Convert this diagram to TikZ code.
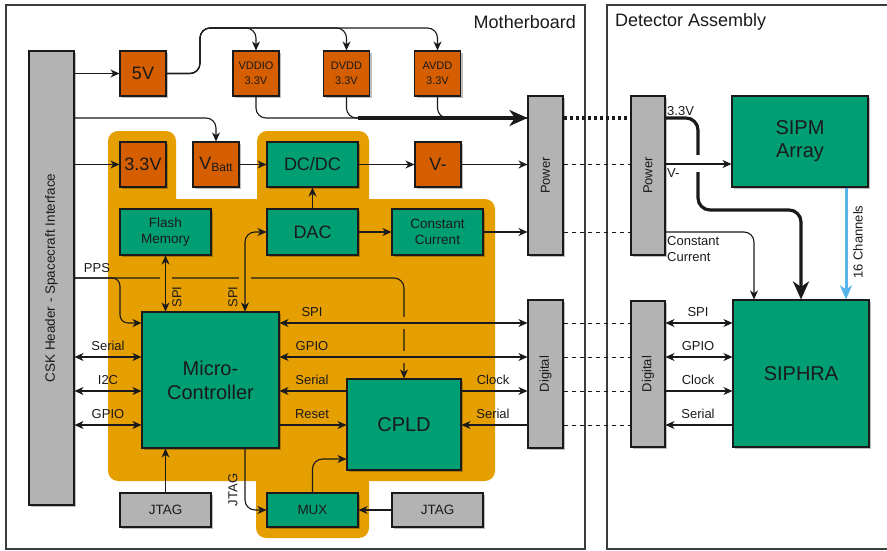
\documentclass[tikz,border=0pt]{standalone}
\usepackage{fontspec}
\setmainfont{Liberation Sans}
\usetikzlibrary{arrows.meta,shadows}
\definecolor{vorange}{HTML}{D55E00}
\definecolor{vgreen}{HTML}{009E73}
\definecolor{bgorange}{HTML}{E69F00}
\definecolor{vgray}{HTML}{B3B3B3}
\definecolor{vblue}{HTML}{56B4E9}
\definecolor{ink}{HTML}{1A1A1A}
\newcommand{\fsz}[1]{\fontsize{#1}{#1}\selectfont}
\begin{document}
\begin{tikzpicture}[x=1pt,y=-1pt,
  >={Stealth[length=9pt,width=8pt,inset=2.8pt]},
  box/.style={draw=ink,line width=1.1pt,inner sep=0pt,align=center,text=ink,
    drop shadow={shadow xshift=2pt,shadow yshift=-2pt,opacity=0.25,fill=black}},
  obox/.style={box,fill=vorange},
  gbox/.style={box,fill=vgreen},
  ybox/.style={box,fill=vgray},
  sq/.style={minimum width=46pt,minimum height=45pt},
  wide/.style={minimum width=91pt,minimum height=46pt},
  ln/.style={draw=ink,line width=1.1pt},
  thickln/.style={draw=ink,line width=3.2pt},
  bigtip/.style={-{Stealth[length=18pt,width=16pt,inset=5.5pt]}},
  dashln/.style={draw=ink,line width=0.9pt,dash pattern=on 4pt off 4pt},
  lbl/.style={inner sep=0pt,text=ink,font=\fsz{13}},
  frame/.style={draw=ink!85,line width=1.3pt,inner sep=0pt},
]
\useasboundingbox (0,0) rectangle (887,551);

% frames
\node[frame,minimum width=579pt,minimum height=544pt] (mb) at (295.5,277) {};
\node[frame,minimum width=282pt,minimum height=544pt] (da) at (748,277) {};
\node[anchor=east,inner sep=0pt,text=ink,font=\fsz{18}] (mbt) at (576,22) {Motherboard};
\node[anchor=west,inner sep=0pt,text=ink,font=\fsz{18}] (dat) at (615,22) {Detector Assembly};

% orange background region
\fill[bgorange,rounded corners=10pt] (108,131) rectangle (176,215);
\fill[bgorange,rounded corners=10pt] (257,131) rectangle (369,215);
\fill[bgorange,rounded corners=10pt] (108,199) rectangle (495,481);
\fill[bgorange,rounded corners=10pt] (256,465) rectangle (369,538);

% nodes
\node[ybox,minimum width=45pt,minimum height=454pt] (csk) at (51.5,278) {\rotatebox{90}{\fsz{13.5}CSK Header - Spacecraft Interface}};
\node[obox,sq] (v5) at (143,73.5) {\fsz{18}5V};
\node[obox,sq,font=\fontsize{11}{15}\selectfont] (vddio) at (256,73.5) {VDDIO\\3.3V};
\node[obox,sq,font=\fontsize{11}{15}\selectfont] (dvdd) at (346.5,73.5) {DVDD\\3.3V};
\node[obox,sq,font=\fontsize{11}{15}\selectfont] (avdd) at (437.5,73.5) {AVDD\\3.3V};
\node[ybox,minimum width=35pt,minimum height=159pt] (mbpower) at (545.5,175.5) {\rotatebox{90}{\fsz{13}Power}};
\node[ybox,minimum width=35pt,minimum height=148pt] (mbdigital) at (545.5,374) {\rotatebox{90}{\fsz{13}Digital}};
\node[ybox,minimum width=34pt,minimum height=159pt] (detpower) at (648,175.5) {\rotatebox{90}{\fsz{13}Power}};
\node[ybox,minimum width=34pt,minimum height=146pt] (detdigital) at (648,374) {\rotatebox{90}{\fsz{13}Digital}};
\node[gbox,minimum width=136pt,minimum height=91pt,font=\fontsize{20}{23}\selectfont] (sipm) at (800,141.5) {SIPM\\Array};
\node[gbox,minimum width=136pt,minimum height=147pt,font=\fsz{20}] (siphra) at (801,373.5) {SIPHRA};
\node[obox,sq] (v33) at (143,164.5) {\fsz{18}3.3V};
\node[obox,sq] (vbatt) at (216,164.5) {\fsz{18}V\raisebox{-2.5pt}{\fsz{12}Batt}};
\node[gbox,minimum width=91pt,minimum height=45pt] (dcdc) at (312.5,164.5) {\fsz{18}DC/DC};
\node[obox,sq] (vminus) at (438,164.5) {\fsz{18}V-};
\node[gbox,wide,font=\fontsize{13.5}{16}\selectfont] (flash) at (165.5,232) {Flash\\Memory};
\node[gbox,wide] (dac) at (312.5,232) {\fsz{18}DAC};
\node[gbox,wide,font=\fontsize{13.5}{16}\selectfont] (cc) at (437.5,232) {Constant\\Current};
\node[gbox,minimum width=137pt,minimum height=136pt,font=\fontsize{20}{24}\selectfont] (mcu) at (210.5,380) {Micro-\\Controller};
\node[gbox,minimum width=114pt,minimum height=91pt,font=\fsz{20}] (cpld) at (404,424.5) {CPLD};
\node[gbox,minimum width=91pt,minimum height=34pt,font=\fsz{13.5}] (mux) at (312.5,510) {MUX};
\node[ybox,minimum width=91pt,minimum height=34pt,font=\fsz{13.5}] (jtagl) at (165.5,510) {JTAG};
\node[ybox,minimum width=91pt,minimum height=34pt,font=\fsz{13.5}] (jtagr) at (437.5,510) {JTAG};
\coordinate (join) at (358,118);

% supply rails
\draw[ln,->] (csk.east |- v5.west) -- (v5.west);
\draw[ln,->,rounded corners=10pt] (v5.east) -- (200,73.5) -- (200,28) -- (vddio.north |- 0,28) -- (vddio.north);
\draw[ln,->,rounded corners=10pt] (v5.east) -- (200,73.5) -- (200,28) -- (dvdd.north |- 0,28) -- (dvdd.north);
\draw[ln,->,rounded corners=10pt] (v5.east) -- (200,73.5) -- (200,28) -- (avdd.north |- 0,28) -- (avdd.north);
\draw[ln,rounded corners=10pt] (vddio.south) -- (vddio.south |- 0,118) -- (mbpower.west |- 0,118);
\draw[ln,rounded corners=10pt] (dvdd.south) -- (dvdd.south |- 0,118) -- (join);
\draw[ln,rounded corners=10pt] (avdd.south) -- (avdd.south |- 0,118) -- (mbpower.west |- 0,118);
\draw[thickln,bigtip] (join) -- (mbpower.west |- 0,118);
\draw[ln,->] (csk.east |- v33.west) -- (v33.west);
\draw[ln,->,rounded corners=10pt] (csk.east |- 0,118) -- (vbatt.north |- 0,118) -- (vbatt.north);
\draw[ln,->] (vbatt) -- (dcdc);
\draw[ln,->] (dcdc) -- (vminus);
\draw[ln,->] (vminus.east) -- (mbpower.west |- vminus.east);
\draw[ln,->] (dac) -- (dcdc);
\draw[ln,->] (dac) -- (cc);
\draw[ln,->] (cc.east) -- (mbpower.west |- cc.east);

% PPS
\draw[ln,->,rounded corners=8pt] (csk.east |- 0,278) -- (120,278) -- (120,323) -- (mcu.west |- 0,323);
\draw[ln,->,rounded corners=10pt] (csk.east |- 0,278) -- (cpld.north |- 0,278) -- (cpld.north);
\fill[bgorange] (160,275) rectangle (172,281);
\fill[bgorange] (239,275) rectangle (251,281);
\fill[bgorange] (400,317) rectangle (408,329);
\fill[bgorange] (400,351) rectangle (408,363);

% SPI to flash and DAC
\draw[ln,<->] (flash.south) -- (flash.south |- mcu.north);
\draw[ln,<->,rounded corners=10pt] (dac.west) -- (dac.west -| 245,0) -- (mcu.north -| 245,0);

% MCU / CPLD / digital
\draw[ln,<->] (mcu.east |- 0,323) -- (mbdigital.west |- 0,323);
\draw[ln,<->] (mcu.east |- 0,357) -- (mbdigital.west |- 0,357);
\draw[ln,->] (cpld.west |- 0,391) -- (mcu.east |- 0,391);
\draw[ln,->] (mcu.east |- 0,425) -- (cpld.west |- 0,425);
\draw[ln,->] (cpld.east |- 0,391) -- (mbdigital.west |- 0,391);
\draw[ln,->] (mbdigital.west |- 0,425) -- (cpld.east |- 0,425);
\draw[ln,<->] (csk.east |- 0,357) -- (mcu.west |- 0,357);
\draw[ln,<->] (csk.east |- 0,391) -- (mcu.west |- 0,391);
\draw[ln,<->] (csk.east |- 0,425) -- (mcu.west |- 0,425);

% JTAG
\draw[ln,->] (jtagl.north) -- (jtagl.north |- mcu.south);
\draw[ln,->,rounded corners=10pt] (mcu.south -| 245,0) -- (mux.west -| 245,0) -- (mux.west);
\draw[ln,->,rounded corners=10pt] (mux.north) -- (mux.north |- 0,459) -- (cpld.west |- 0,459);
\draw[ln,->] (jtagr) -- (mux);

% board to board
\draw[thickln,dash pattern=on 3pt off 3pt] (mbpower.east |- 0,118) -- (detpower.west |- 0,118);
\draw[dashln] (mbpower.east |- 0,164) -- (detpower.west |- 0,164);
\draw[dashln] (mbpower.east |- 0,232) -- (detpower.west |- 0,232);
\draw[dashln] (mbdigital.east |- 0,323) -- (detdigital.west |- 0,323);
\draw[dashln] (mbdigital.east |- 0,357) -- (detdigital.west |- 0,357);
\draw[dashln] (mbdigital.east |- 0,391) -- (detdigital.west |- 0,391);
\draw[dashln] (mbdigital.east |- 0,425) -- (detdigital.west |- 0,425);

% detector
\draw[thickln,bigtip,rounded corners=12pt] (detpower.east |- 0,118) -- (698,118) -- (698,210) -- (siphra.north |- 0,210) -- (siphra.north);
\fill[white] (692,155) rectangle (704,172);
\draw[ln,->] (detpower.east |- 0,164) -- (sipm.west |- 0,164);
\draw[ln,->,rounded corners=10pt] (detpower.east |- 0,232) -- (754,232) -- (siphra.north -| 754,0);
\draw[vblue,line width=3pt,-{Stealth[length=14pt,width=12pt,inset=4pt]}] (sipm.south -| 846,0) -- (siphra.north -| 846,0);
\draw[ln,<->] (detdigital.east |- 0,323) -- (siphra.west |- 0,323);
\draw[ln,<->] (detdigital.east |- 0,357) -- (siphra.west |- 0,357);
\draw[ln,->] (detdigital.east |- 0,391) -- (siphra.west |- 0,391);
\draw[ln,->] (siphra.west |- 0,425) -- (detdigital.east |- 0,425);

% labels
\node[lbl] (lpps) at (97,268) {PPS};
\node[lbl] (lser1) at (108,346) {Serial};
\node[lbl] (li2c) at (108,380) {I2C};
\node[lbl] (lgpio1) at (108,414) {GPIO};
\node[lbl,rotate=90] (lspi1) at (177,297) {SPI};
\node[lbl,rotate=90] (lspi2) at (233,297) {SPI};
\node[lbl,rotate=90] (ljtag) at (233,490) {JTAG};
\node[lbl] (lspi3) at (312,312) {SPI};
\node[lbl] (lgpio2) at (312,346) {GPIO};
\node[lbl] (lser2) at (312,380) {Serial};
\node[lbl] (lrst) at (312,414) {Reset};
\node[lbl] (lclk1) at (493,380) {Clock};
\node[lbl] (lser3) at (493,414) {Serial};
\node[lbl,anchor=west] (l33) at (667,111) {3.3V};
\node[lbl,anchor=west] (lvm) at (667,173) {V-};
\node[lbl,anchor=west,align=left,font=\fontsize{13}{16}\selectfont] (lcc) at (667,249) {Constant\\Current};
\node[lbl,rotate=90] (l16) at (858,242) {16 Channels};
\node[lbl] (lspi4) at (698,312) {SPI};
\node[lbl] (lgpio3) at (698,346) {GPIO};
\node[lbl] (lclk2) at (698,380) {Clock};
\node[lbl] (lser4) at (698,414) {Serial};
\end{tikzpicture}
\end{document}
